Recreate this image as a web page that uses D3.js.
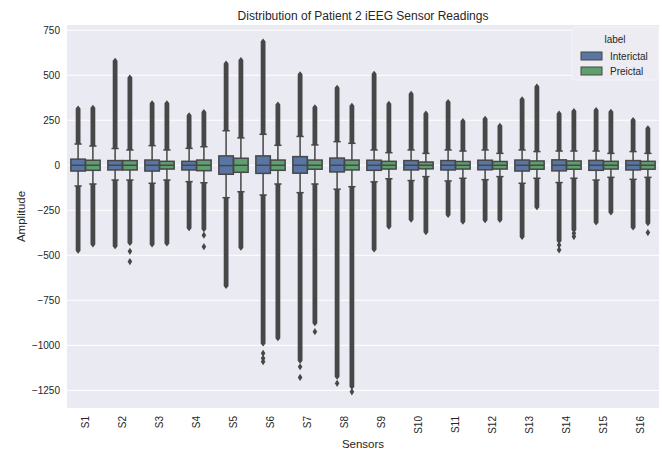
<!DOCTYPE html>
<html>
<head>
<meta charset="utf-8">
<script src="https://cdn.jsdelivr.net/npm/d3@7"></script>
<style>
  body { margin: 0; background: #fff; }
  text { font-family: "Liberation Sans", Arial, sans-serif; fill: #262626; }
</style>
</head>
<body>
<svg id="chart" width="662" height="451"></svg>
<script>
const sensors = ["S1","S2","S3","S4","S5","S6","S7","S8","S9","S10","S11","S12","S13","S14","S15","S16"];
const labels = ["Interictal", "Preictal"];
const colors = ["#5875a4", "#5f9e6e"];
const yTicks = [-1250, -1000, -750, -500, -250, 0, 250, 500, 750];

// Interictal boxes
const interQ1   = [-32, -26, -32, -26, -50, -45, -44, -37, -28, -26, -26, -25, -32, -31, -28, -26];
const interMed  = [0, 0, 0, 0, -2, 0, 0, 0, 0, 0, 0, 0, 0, 0, 0, 0];
const interQ3   = [34, 26, 29, 22, 52, 52, 48, 40, 28, 26, 26, 28, 29, 30, 27, 26];
const interWLo  = [-115, -82, -100, -91, -180, -165, -152, -133, -92, -85, -87, -80, -100, -96, -82, -78];
const interWHi  = [118, 93, 109, 94, 192, 172, 160, 131, 85, 85, 85, 85, 85, 79, 79, 76];
const interMin  = [-475, -450, -440, -350, -670, -990, -1085, -1175, -468, -302, -276, -305, -398, -420, -318, -345];
const interMax  = [315, 580, 345, 278, 565, 688, 505, 430, 508, 397, 352, 258, 367, 287, 307, 252];
const interLone = [[], [], [], [], [], [-1044, -1072, -1091], [-1119, -1178], [-1211], [], [], [], [], [], [-443, -470], [], []];

// Preictal boxes
const preQ1   = [-28, -26, -21, -30, -39, -28, -22, -26, -21, -20, -21, -21, -22, -22, -21, -22];
const preMed  = [0, 0, 0, 0, 0, 0, 0, 0, 0, 0, 0, 0, 0, 0, 0, 0];
const preQ3   = [28, 26, 22, 29, 39, 29, 29, 29, 22, 18, 21, 21, 24, 24, 22, 22];
const preWLo  = [-104, -82, -82, -97, -147, -104, -104, -119, -75, -63, -72, -63, -72, -72, -67, -67];
const preWHi  = [107, 85, 85, 103, 152, 111, 113, 122, 70, 66, 79, 66, 76, 79, 66, 66];
const preMin  = [-440, -432, -435, -355, -458, -961, -878, -1230, -341, -372, -313, -304, -233, -360, -262, -322];
const preMax  = [320, 487, 344, 296, 585, 338, 322, 330, 342, 287, 246, 219, 437, 302, 297, 206];
const preLone = [[], [-478, -535], [], [-388, -452], [], [], [-924], [-1258], [], [], [], [], [], [-378, -396], [], [-374]];

const stats = [
  sensors.map((s, i) => ({s, q1: interQ1[i], med: interMed[i], q3: interQ3[i], lo: interWLo[i], hi: interWHi[i], min: interMin[i], max: interMax[i], lone: interLone[i]})),
  sensors.map((s, i) => ({s, q1: preQ1[i], med: preMed[i], q3: preQ3[i], lo: preWLo[i], hi: preWHi[i], min: preMin[i], max: preMax[i], lone: preLone[i]}))
];

const plot = {left: 67, right: 659, top: 25, bottom: 408};
const gray = "#474747";

const svg = d3.select("#chart");

const x = d3.scaleBand()
    .domain(sensors)
    .range([plot.left, plot.right]);

const y = d3.scaleLinear()
    .domain([-1348, 779])
    .range([plot.bottom, plot.top]);

const bw = x.bandwidth();
const boxW = bw * 0.4 * 0.98;
const cx = (s, h) => x(s) + bw * 0.1 + bw * 0.4 * (h + 0.5);

svg.append("rect")
    .attr("x", plot.left)
    .attr("y", plot.top)
    .attr("width", plot.right - plot.left)
    .attr("height", plot.bottom - plot.top)
    .attr("fill", "#eaeaf2");

// grid
svg.append("g").selectAll("line")
    .data(yTicks)
  .join("line")
    .attr("x1", plot.left)
    .attr("x2", plot.right)
    .attr("y1", d => y(d))
    .attr("y2", d => y(d))
    .attr("stroke", "#fff")
    .attr("stroke-width", 1);

// Y axis
const yAxis = svg.append("g")
    .attr("transform", `translate(${plot.left},0)`)
    .call(d3.axisLeft(y).tickValues(yTicks).tickFormat(d3.format("d")).tickSize(0).tickPadding(7));
yAxis.select(".domain").remove();
yAxis.selectAll("text").attr("font-size", 10).attr("fill", "#262626").style("font-family", "Liberation Sans, Arial, sans-serif");

// X axis
const xAxis = svg.append("g")
    .attr("transform", `translate(0,${plot.bottom})`)
    .call(d3.axisBottom(x).tickSize(0));
xAxis.select(".domain").remove();
xAxis.selectAll("text")
    .attr("font-size", 10)
    .attr("fill", "#262626")
    .style("font-family", "Liberation Sans, Arial, sans-serif")
    .attr("text-anchor", "end")
    .attr("transform", "translate(0,8) rotate(-90)")
    .attr("x", 0)
    .attr("y", 0)
    .attr("dy", "0.35em");

const diamond = (px, py) => `M${px},${py - 3.6}L${px + 2.3},${py}L${px},${py + 3.6}L${px - 2.3},${py}Z`;

stats.forEach((rows, h) => {
  const g = svg.append("g");

  rows.forEach(d => {
    const c = cx(d.s, h);

    // dense outlier columns
    const band = d3.path();
    band.moveTo(c, y(d.max) - 3);
    band.lineTo(c + 2.4, y(d.max));
    band.lineTo(c + 2.4, y(d.hi));
    band.lineTo(c - 2.4, y(d.hi));
    band.lineTo(c - 2.4, y(d.max));
    band.closePath();
    band.moveTo(c, y(d.min) + 3);
    band.lineTo(c + 2.4, y(d.min));
    band.lineTo(c + 2.4, y(d.lo));
    band.lineTo(c - 2.4, y(d.lo));
    band.lineTo(c - 2.4, y(d.min));
    band.closePath();
    g.append("path")
        .attr("d", band.toString())
        .attr("fill", gray);

    // lone outliers
    g.selectAll(null)
        .data(d.lone)
      .join("path")
        .attr("d", v => diamond(c, y(v)))
        .attr("fill", gray);

    // whiskers
    g.append("line")
        .attr("x1", c).attr("x2", c)
        .attr("y1", y(d.hi)).attr("y2", y(d.lo))
        .attr("stroke", gray)
        .attr("stroke-width", 1.5);

    // caps
    [d.hi, d.lo].forEach(v => {
      g.append("line")
          .attr("x1", c - boxW / 4).attr("x2", c + boxW / 4)
          .attr("y1", y(v)).attr("y2", y(v))
          .attr("stroke", gray)
          .attr("stroke-width", 1.5);
    });

    // box
    g.append("rect")
        .attr("x", c - boxW / 2)
        .attr("y", y(d.q3))
        .attr("width", boxW)
        .attr("height", y(d.q1) - y(d.q3))
        .attr("fill", colors[h])
        .attr("stroke", gray)
        .attr("stroke-width", 1.5);

    // median
    g.append("line")
        .attr("x1", c - boxW / 2).attr("x2", c + boxW / 2)
        .attr("y1", y(d.med)).attr("y2", y(d.med))
        .attr("stroke", gray)
        .attr("stroke-width", 1.5);
  });
});

// title and axis labels
svg.append("text")
    .attr("x", (plot.left + plot.right) / 2)
    .attr("y", 20)
    .attr("text-anchor", "middle")
    .attr("font-size", 12)
    .text("Distribution of Patient 2 iEEG Sensor Readings");

svg.append("text")
    .attr("x", (plot.left + plot.right) / 2)
    .attr("y", 448)
    .attr("text-anchor", "middle")
    .attr("font-size", 11.5)
    .text("Sensors");

svg.append("text")
    .attr("transform", `translate(25,${(plot.top + plot.bottom) / 2}) rotate(-90)`)
    .attr("text-anchor", "middle")
    .attr("font-size", 11.5)
    .text("Amplitude");

// legend
const legend = svg.append("g").attr("transform", "translate(572,27)");
legend.append("rect")
    .attr("width", 86)
    .attr("height", 53)
    .attr("rx", 3)
    .attr("fill", "#ececf2")
    .attr("stroke", "#f4f4f7");
legend.append("text")
    .attr("x", 43)
    .attr("y", 16)
    .attr("text-anchor", "middle")
    .attr("font-size", 10)
    .text("label");
labels.forEach((lab, i) => {
  legend.append("rect")
      .attr("x", 9)
      .attr("y", 25 + i * 15)
      .attr("width", 21)
      .attr("height", 8)
      .attr("fill", colors[i])
      .attr("stroke", gray)
      .attr("stroke-width", 1);
  legend.append("text")
      .attr("x", 38)
      .attr("y", 29 + i * 15)
      .attr("dy", "0.35em")
      .attr("font-size", 10)
      .text(lab);
});
</script>
</body>
</html>
